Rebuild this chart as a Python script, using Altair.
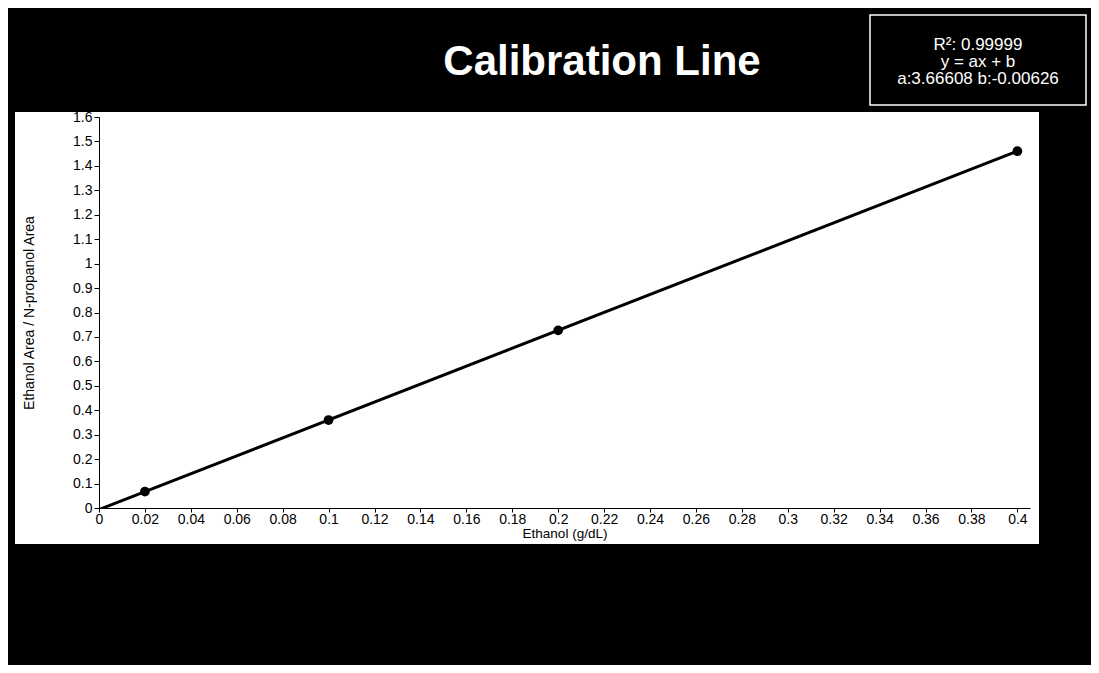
import altair as alt
import pandas as pd

# ---- data ----
conc = [0.02, 0.1, 0.2, 0.4]                 # Ethanol (g/dL)
ratio = [0.067, 0.360, 0.727, 1.460]         # Ethanol Area / N-propanol Area
fit_x = [0.0, 0.4]
fit_y = [-0.00626, 1.46017]
x_ticks = [0, 0.02, 0.04, 0.06, 0.08, 0.1, 0.12, 0.14, 0.16, 0.18, 0.2,
           0.22, 0.24, 0.26, 0.28, 0.3, 0.32, 0.34, 0.36, 0.38, 0.4]
y_ticks = [0, 0.1, 0.2, 0.3, 0.4, 0.5, 0.6, 0.7, 0.8, 0.9, 1.0,
           1.1, 1.2, 1.3, 1.4, 1.5, 1.6]
title_text = "Calibration Line"
box_text_str = "R²: 0.99999\ny = ax + b\na:3.66608 b:-0.00626"

pts = pd.DataFrame({"x": conc, "y": ratio})
fit = pd.DataFrame({"x": fit_x, "y": fit_y})

W, H = 931, 391
FONT = "Liberation Sans"

xs = alt.Scale(domain=[0, 0.4055], nice=False, zero=False)
ys = alt.Scale(domain=[0, 1.6], nice=False, zero=False)

x_axis = alt.Axis(values=x_ticks, format="~g", title="Ethanol (g/dL)",
                  grid=False, zindex=1, domainColor="black", tickColor="black",
                  labelColor="black", titleColor="black", labelFontSize=14,
                  titleFontSize=13.5, titleFontWeight="normal", labelFont=FONT,
                  titleFont=FONT, tickSize=4, labelPadding=0, titlePadding=0,
                  labelFlush=False, labelOverlap=False)
y_axis = alt.Axis(values=y_ticks, format="~g",
                  title="Ethanol Area / N-propanol Area",
                  grid=False, zindex=1, domainColor="black", tickColor="black",
                  labelColor="black", titleColor="black", labelFontSize=14,
                  titleFontSize=14, titleFontWeight="normal", labelFont=FONT,
                  titleFont=FONT, tickSize=5, labelPadding=2, titlePadding=36,
                  labelFlush=False, labelOverlap=False)

# white panel behind plot + axes
panel = alt.Chart(pd.DataFrame({"a": [0]})).mark_rect(
    color="white", clip=False
).encode(x=alt.value(-84), x2=alt.value(940), y=alt.value(-5), y2=alt.value(427))

line = alt.Chart(fit).mark_line(color="black", strokeWidth=3, clip=True).encode(
    x=alt.X("x:Q", scale=xs, axis=x_axis),
    y=alt.Y("y:Q", scale=ys, axis=y_axis),
)

points = alt.Chart(pts).mark_circle(color="black", opacity=1, size=95).encode(
    x=alt.X("x:Q", scale=xs, axis=x_axis),
    y=alt.Y("y:Q", scale=ys, axis=y_axis),
)

title = alt.Chart(pd.DataFrame({"t": [title_text]})).mark_text(
    color="white", font=FONT, fontSize=42, fontWeight="bold",
    align="center", baseline="middle"
).encode(x=alt.value(503), y=alt.value(-55), text="t:N")

box = alt.Chart(pd.DataFrame({"a": [0]})).mark_rect(
    fill="black", stroke="white", strokeWidth=1.5, clip=False
).encode(x=alt.value(771), x2=alt.value(987), y=alt.value(-102), y2=alt.value(-12))

box_text = alt.Chart(pd.DataFrame({"t": [box_text_str]})).mark_text(
    color="white", font=FONT, fontSize=17, align="center", baseline="top",
    lineBreak="\n", lineHeight=17
).encode(x=alt.value(879), y=alt.value(-80), text="t:N")

chart = alt.layer(panel, line, points, title, box, box_text).properties(
    width=W, height=H,
    background="black",
    padding={"left": 91, "top": 109, "right": 61, "bottom": 157},
    autosize=alt.AutoSizeParams(type="none"),
).configure_view(stroke="black", strokeWidth=1.5)

chart.save("out.html", embed_options={"renderer": "svg", "actions": False})
